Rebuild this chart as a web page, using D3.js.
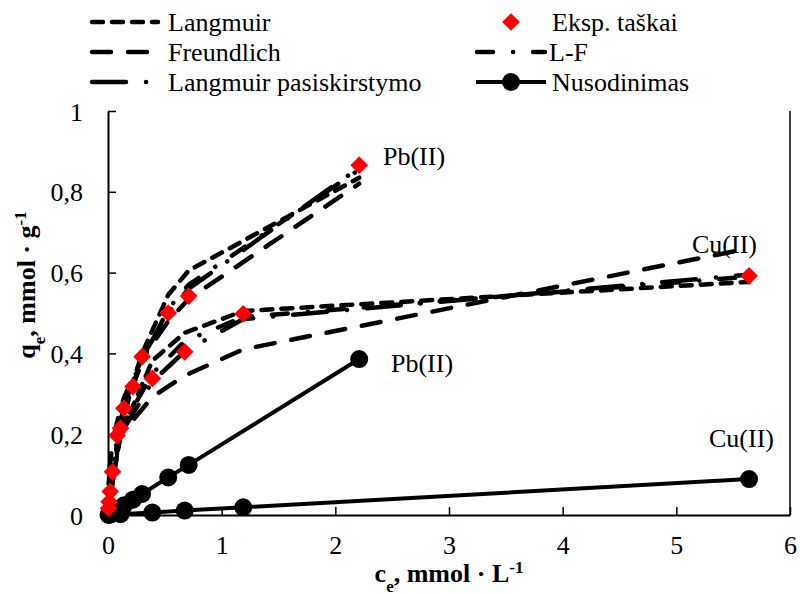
<!DOCTYPE html>
<html>
<head>
<meta charset="utf-8">
<script src="https://cdn.jsdelivr.net/npm/d3@7"></script>
<style>
  body { margin: 0; background: #fff; }
  svg text { font-family: "Liberation Serif", "Times New Roman", serif; fill: #000; }
</style>
</head>
<body>
<div id="chart"></div>
<script>
// Pb(II) data
var pbX = [0.01, 0.04, 0.08, 0.14, 0.22, 0.30, 0.53, 0.71, 2.21];
var pbExp = [0.033, 0.107, 0.197, 0.264, 0.318, 0.392, 0.50, 0.542, 0.866];
var pbLangmuir = [0.02, 0.08, 0.15, 0.24, 0.33, 0.40, 0.545, 0.605, 0.835];
var pbFreundlich = [0.106, 0.18, 0.23, 0.29, 0.34, 0.386, 0.48, 0.535, 0.82];
var pbLF = [0.05, 0.12, 0.19, 0.26, 0.32, 0.38, 0.51, 0.57, 0.855];
var pbLP = [0.04, 0.11, 0.19, 0.27, 0.33, 0.39, 0.50, 0.56, 0.86];
var pbNus = [0.002, 0.007, 0.014, 0.024, 0.038, 0.052, 0.093, 0.124, 0.386];

// Cu(II) data
var cuX = [0.005, 0.02, 0.11, 0.39, 0.675, 1.19, 5.64];
var cuExp = [0.017, 0.058, 0.215, 0.338, 0.404, 0.498, 0.592];
var cuLangmuir = [0.013, 0.049, 0.198, 0.382, 0.451, 0.505, 0.577];
var cuFreundlich = [0.077, 0.118, 0.198, 0.292, 0.345, 0.41, 0.66];
var cuLF = [0.02, 0.07, 0.21, 0.35, 0.43, 0.49, 0.59];
var cuLP = [0.02, 0.06, 0.20, 0.33, 0.405, 0.485, 0.595];
var cuNus = [0.0, 0.001, 0.002, 0.006, 0.011, 0.019, 0.089];

var xTicks = [0, 1, 2, 3, 4, 5, 6];
var yTicks = [0, 0.2, 0.4, 0.6, 0.8, 1];

var svgWidth = 800;
var svgHeight = 594;

var margin = { top: 111, right: 10, bottom: 79, left: 108 };
var width = 790 - margin.left;
var height = 515 - margin.top;

var serif = "'Liberation Serif', 'Times New Roman', serif";

var svg = d3.select("#chart")
  .append("svg")
  .attr("width", svgWidth)
  .attr("height", svgHeight);

var chartGroup = svg.append("g")
  .attr("transform", `translate(${margin.left}, ${margin.top})`);

var xScale = d3.scaleLinear().domain([0, 6]).range([0, width]);
var yScale = d3.scaleLinear().domain([0, 1]).range([height, 0]);

// line styles
var styles = {
  langmuir: "11,9",
  freundlich: "19,17",
  lf: "16,20,0.1,20",
  lp: "34,20,0.1,20"
};

function zip(xs, ys) {
  return xs.map((x, i) => [x, ys[i]]);
}

var line = d3.line()
  .x(d => xScale(d[0]))
  .y(d => yScale(d[1]));

// right border
chartGroup.append("line")
  .attr("x1", width).attr("x2", width)
  .attr("y1", 0).attr("y2", height)
  .attr("stroke", "#000")
  .attr("stroke-width", 1.5);

// axes
var bottomAxis = d3.axisBottom(xScale).tickValues(xTicks).tickSizeInner(-8).tickSizeOuter(0).tickPadding(21)
  .tickFormat(d => d);
var leftAxis = d3.axisLeft(yScale).tickValues(yTicks).tickSizeInner(-8).tickSizeOuter(0).tickPadding(25)
  .tickFormat(d => String(d).replace(".", ","));

var xAxis = chartGroup.append("g")
  .attr("transform", `translate(0, ${height})`)
  .call(bottomAxis);

var yAxis = chartGroup.append("g")
  .call(leftAxis);

[xAxis, yAxis].forEach(function (ax) {
  ax.attr("font-family", serif).attr("font-size", 26);
  ax.select(".domain").attr("stroke", "#000").attr("stroke-width", 2);
  ax.selectAll(".tick line").attr("stroke", "#000").attr("stroke-width", 1.5);
  ax.selectAll("text").attr("fill", "#000");
});
yAxis.selectAll("text").attr("dy", "0.35em");
xAxis.selectAll("text").attr("dy", "0.71em");

// model curves
var models = [
  [pbLangmuir, cuLangmuir, styles.langmuir],
  [pbFreundlich, cuFreundlich, styles.freundlich],
  [pbLF, cuLF, styles.lf],
  [pbLP, cuLP, styles.lp]
];

models.forEach(function (m) {
  [[pbX, m[0]], [cuX, m[1]]].forEach(function (s) {
    chartGroup.append("path")
      .datum(zip(s[0], s[1]))
      .attr("d", line)
      .attr("fill", "none")
      .attr("stroke", "#000")
      .attr("stroke-width", 4.5)
      .attr("stroke-linecap", "round")
      .attr("stroke-dasharray", m[2]);
  });
});

// precipitation (Nusodinimas)
[[pbX, pbNus], [cuX, cuNus]].forEach(function (s) {
  var pts = zip(s[0], s[1]);
  chartGroup.append("path")
    .datum(pts)
    .attr("d", line)
    .attr("fill", "none")
    .attr("stroke", "#000")
    .attr("stroke-width", 4);
  chartGroup.selectAll(null)
    .data(pts).enter()
    .append("circle")
    .attr("cx", d => xScale(d[0]))
    .attr("cy", d => yScale(d[1]))
    .attr("r", 9)
    .attr("fill", "#000");
});

// experimental points
var diamond = d3.symbol().type(d3.symbolDiamond2).size(200);
[[pbX, pbExp], [cuX, cuExp]].forEach(function (s) {
  chartGroup.selectAll(null)
    .data(zip(s[0], s[1])).enter()
    .append("path")
    .attr("d", diamond)
    .attr("transform", d => `translate(${xScale(d[0])}, ${yScale(d[1])})`)
    .attr("fill", "#ff0000");
});

// series labels
var labels = [
  { t: "Pb(II)", x: 383, y: 165 },
  { t: "Cu(II)", x: 692, y: 253 },
  { t: "Pb(II)", x: 391, y: 372 },
  { t: "Cu(II)", x: 709, y: 447 }
];
svg.selectAll(null)
  .data(labels).enter()
  .append("text")
  .attr("x", d => d.x)
  .attr("y", d => d.y)
  .attr("font-family", serif)
  .attr("font-size", 26)
  .text(d => d.t);

// axis titles
var xTitle = svg.append("text")
  .attr("x", 449)
  .attr("y", 582)
  .attr("text-anchor", "middle")
  .attr("font-family", serif)
  .attr("font-size", 26)
  .attr("font-weight", "bold");
xTitle.append("tspan").text("c");
xTitle.append("tspan").attr("baseline-shift", "sub").attr("font-size", 17).text("e");
xTitle.append("tspan").text(", mmol · L");
xTitle.append("tspan").attr("baseline-shift", "super").attr("font-size", 17).text("-1");

var yTitle = svg.append("text")
  .attr("transform", "translate(35, 285) rotate(-90)")
  .attr("text-anchor", "middle")
  .attr("font-family", serif)
  .attr("font-size", 26)
  .attr("font-weight", "bold");
yTitle.append("tspan").text("q");
yTitle.append("tspan").attr("baseline-shift", "sub").attr("font-size", 17).text("e");
yTitle.append("tspan").text(", mmol · g");
yTitle.append("tspan").attr("baseline-shift", "super").attr("font-size", 17).text("-1");

// legend
var legend = svg.append("g")
  .attr("font-family", serif)
  .attr("font-size", 26);
var legendLeft = [
  { t: "Langmuir", dash: styles.langmuir, y: 22 },
  { t: "Freundlich", dash: styles.freundlich, y: 52 },
  { t: "Langmuir pasiskirstymo", dash: styles.lp, y: 82 }
];
legendLeft.forEach(function (d) {
  legend.append("line")
    .attr("x1", 92).attr("x2", 158)
    .attr("y1", d.y).attr("y2", d.y)
    .attr("stroke", "#000")
    .attr("stroke-width", 4.5)
    .attr("stroke-linecap", "round")
    .attr("stroke-dasharray", d.dash);
  legend.append("text")
    .attr("x", 168).attr("y", d.y + 9)
    .text(d.t);
});

legend.append("path")
  .attr("d", diamond)
  .attr("transform", "translate(511, 22)")
  .attr("fill", "#ff0000");
legend.append("text").attr("x", 552).attr("y", 31).text("Eksp. taškai");

legend.append("line")
  .attr("x1", 477).attr("x2", 545)
  .attr("y1", 52).attr("y2", 52)
  .attr("stroke", "#000")
  .attr("stroke-width", 4.5)
  .attr("stroke-linecap", "round")
  .attr("stroke-dasharray", styles.lf);
legend.append("text").attr("x", 549).attr("y", 61).text("L-F");

legend.append("line")
  .attr("x1", 476).attr("x2", 546)
  .attr("y1", 82).attr("y2", 82)
  .attr("stroke", "#000")
  .attr("stroke-width", 4);
legend.append("circle").attr("cx", 511).attr("cy", 82).attr("r", 9).attr("fill", "#000");
legend.append("text").attr("x", 552).attr("y", 91).text("Nusodinimas");
</script>
</body>
</html>
